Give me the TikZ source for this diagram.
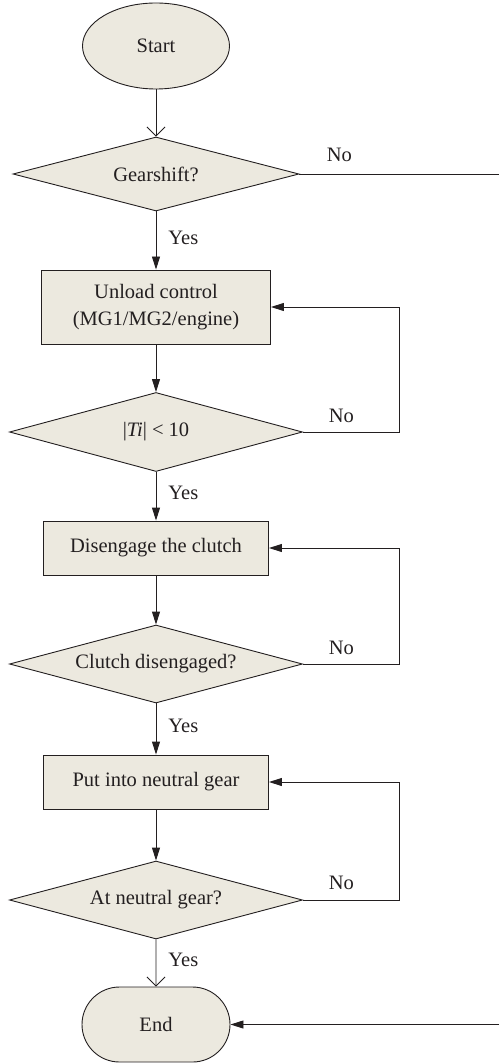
\documentclass[tikz,border=0pt]{standalone}
\usepackage{fontspec}
\setmainfont{Liberation Serif}
\usetikzlibrary{shapes.geometric,shapes.misc,arrows.meta,calc}
\definecolor{boxfill}{HTML}{ECE9DF}
\definecolor{ink}{HTML}{231F20}
\begin{document}
\begin{tikzpicture}[x=1pt,y=-1pt,
  every node/.style={font=\fontsize{20.5}{24}\selectfont, text=ink},
  base/.style={draw=ink, fill=boxfill, line width=0.9pt, inner sep=0pt},
  terminal/.style={base, ellipse, minimum width=147pt, minimum height=86pt},
  stadium/.style={base, rounded rectangle, minimum width=148pt, minimum height=75pt},
  decision/.style={base, diamond, aspect=3.7, minimum height=76pt},
  process/.style={base, rectangle, minimum width=225pt, minimum height=54pt, align=center},
  lbl/.style={inner sep=3pt},
  link/.style={draw=ink, line width=0.9pt},
  arrf/.style={link, -{Triangle[length=13pt,width=8pt]}},
  arro/.style={link, -{Straight Barb[length=9pt,width=18pt,line width=0.9pt]}}
]
\useasboundingbox (0,0) rectangle (499,1064);

% nodes of the flow
\node[terminal] (start) at (156,46) {Start};
\node[decision, minimum width=286pt, minimum height=74pt] (gear) at (156,174) {Gearshift?};
\node[process, minimum width=229pt, minimum height=74pt] (unload) at (156,307)
  {Unload control\\[3pt](MG1/MG2/engine)};
\node[decision, minimum width=293pt, minimum height=79pt] (ti) at (156,432)
  {|\textit{Ti}|~<~10};
\node[process] (clutch) at (156,548) {Disengage the clutch};
\node[decision, minimum width=293pt, minimum height=78pt] (cd) at (156,664) {Clutch disengaged?};
\node[process] (neutral) at (156,782) {Put into neutral gear};
\node[decision, minimum width=293pt, minimum height=78pt] (ng) at (156,900) {At neutral gear?};
\node[stadium] (end) at (156,1024.5) {End};

% free ends of the bypass line at the right border
\coordinate (bypasstop) at (499,174);
\coordinate (bypassbot) at (499,1024.5);

% main flow
\draw[arro] (start) -- (gear);
\draw[arrf] (gear) -- node[lbl, anchor=west, xshift=9pt, yshift=3pt] {Yes} (unload);
\draw[arrf] (unload) -- (ti);
\draw[arrf] (ti) -- node[lbl, anchor=west, xshift=9pt, yshift=3pt] {Yes} (clutch);
\draw[arrf] (clutch) -- (cd);
\draw[arrf] (cd) -- node[lbl, anchor=west, xshift=9pt, yshift=3pt] {Yes} (neutral);
\draw[arrf] (neutral) -- (ng);
\draw[arro] (ng) -- node[lbl, anchor=west, xshift=9pt, yshift=3pt] {Yes} (end);

% retry loops
\draw[arrf] (ti.east) -- node[lbl, pos=0.4, anchor=south, yshift=6pt] {No} ++(96,0) |- (unload.east);
\draw[arrf] (cd.east) -- node[lbl, pos=0.4, anchor=south, yshift=6pt] {No} ++(96,0) |- (clutch.east);
\draw[arrf] (ng.east) -- node[lbl, pos=0.4, anchor=south, yshift=7pt] {No} ++(96,0) |- (neutral.east);

% no gearshift: bypass to the end
\draw[link] (gear.east) -- node[lbl, pos=0.2, anchor=south, yshift=9pt] {No} (bypasstop);
\draw[arrf] (bypassbot) -- (end.east);
\end{tikzpicture}
\end{document}
